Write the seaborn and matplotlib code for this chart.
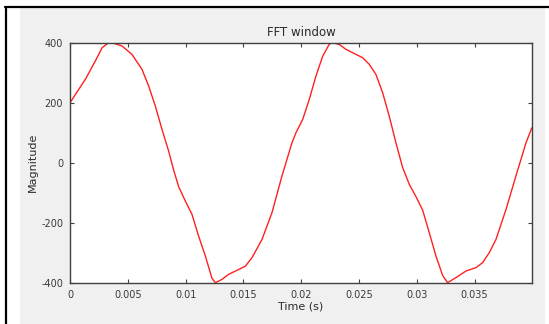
import matplotlib
matplotlib.use("Agg")
import matplotlib.pyplot as plt
from matplotlib.lines import Line2D
from matplotlib.patches import Rectangle
import seaborn as sns
import pandas as pd

# Values
time_ms = [0.0, 1.33, 2.19, 2.77, 3.34, 3.63, 4.50, 5.36, 6.23, 6.81, 7.38, 7.96,
           8.54, 8.97, 9.40, 9.98, 10.55, 11.13, 11.71, 12.28, 12.57, 13.15, 13.73,
           14.59, 15.17, 15.74, 16.61, 17.47, 18.34, 19.20, 19.55, 20.13, 20.70,
           21.28, 21.86, 22.43, 22.72, 23.30, 23.87, 24.74, 25.32, 25.89, 26.47,
           27.05, 27.62, 28.20, 28.77, 29.35, 29.93, 30.51, 31.08, 31.66, 32.24,
           32.67, 33.39, 34.26, 35.12, 35.70, 36.27, 36.85, 37.72, 38.58, 39.45, 39.95]
magnitude = [200, 278, 339, 383, 400, 400, 389, 361, 311, 255, 189, 111,
             38, -25, -80, -128, -172, -245, -311, -385, -400, -389, -372,
             -356, -345, -317, -256, -167, -44, 66, 100, 144, 211,
             289, 355, 395, 400, 394, 378, 361, 350, 328, 294,
             233, 155, 66, -15, -72, -113, -158, -233, -311, -376,
             -400, -383, -361, -350, -333, -300, -256, -156, -44, 66, 116]
x_ticks = [0, 0.005, 0.01, 0.015, 0.02, 0.025, 0.03, 0.035]
x_tick_labels = ["0", "0.005", "0.01", "0.015", "0.02", "0.025", "0.03", "0.035"]
y_ticks = [-400, -200, 0, 200, 400]
y_tick_labels = ["-400", "-200", "0", "200", "400"]

df = pd.DataFrame({"Time (s)": [t / 1000.0 for t in time_ms], "Magnitude": magnitude})

sns.set_style("white")
plt.rcParams["font.family"] = ["DejaVu Sans"]

fig = plt.figure(figsize=(5.49, 3.24), dpi=100)
fig.patch.set_facecolor("white")
# grey window background
fig.add_artist(Rectangle((20 / 549, 0), (545 - 20) / 549, 1 - 8 / 324,
                         transform=fig.transFigure, facecolor="#f0f0f0",
                         edgecolor="none", zorder=0))
# black frame lines
fig.add_artist(Line2D([5 / 549, 1.0], [1 - 6.5 / 324, 1 - 6.5 / 324],
                      transform=fig.transFigure, color="black", lw=1.6))
fig.add_artist(Line2D([6 / 549, 6 / 549], [0, 1 - 6.5 / 324],
                      transform=fig.transFigure, color="black", lw=1.6))

ax = fig.add_axes([70 / 549, 1 - 282.7 / 324, (532 - 70) / 549, (282.7 - 42.7) / 324])
ax.set_facecolor("white")
sns.lineplot(data=df, x="Time (s)", y="Magnitude", ax=ax, color="#ff2020",
             linewidth=1.0, estimator=None, sort=False)

ax.set_xlim(0, 0.03997)
ax.set_ylim(-400, 400)
ax.set_xticks(x_ticks)
ax.set_xticklabels(x_tick_labels)
ax.set_yticks(y_ticks)
ax.set_yticklabels(y_tick_labels)
ax.tick_params(direction="in", length=3, width=0.8, colors="#404040",
               labelcolor="#3a3a3a", labelsize=7, top=True, right=True,
               bottom=True, left=True, pad=5)
for s in ax.spines.values():
    s.set_visible(True)
    s.set_color("#404040")
    s.set_linewidth(1.0)
ax.set_xlabel("Time (s)", fontsize=8, color="#2a2a2a", labelpad=1)
ax.set_ylabel("Magnitude", fontsize=8, color="#2a2a2a", labelpad=2)
ax.set_title("FFT window", fontsize=8.5, color="#2a2a2a", pad=5)

fig.savefig("out.png", dpi=100)
